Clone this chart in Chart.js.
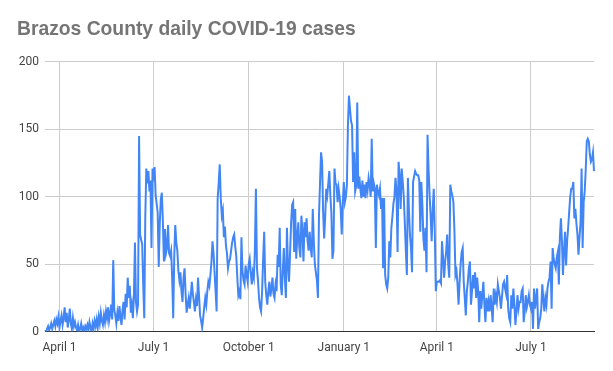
<!DOCTYPE html>
<html>
<head>
<meta charset="utf-8">
<script src="https://cdn.jsdelivr.net/npm/chart.js@4"></script>
<style>
  html, body { margin: 0; padding: 0; background: #fff; }
</style>
</head>
<body>
<canvas id="covidChart" width="613" height="371"></canvas>
<script>
// daily new cases, one per day starting March 18, 2020
var startDay = Date.UTC(2020, 2, 18);
var cases = [
  1, 0, 2, 4, 1, 3, 6, 2, 5, 8,
  4, 9, 6, 11, 3, 8, 12, 5, 10, 18,
  7, 14, 3, 9, 17, 6, 2, 10, 4, 7,
  3, 1, 5, 0, 2, 6, 1, 3, 0, 4,
  2, 5, 1, 7, 3, 0, 6, 2, 8, 4,
  9, 3, 11, 6, 14, 8, 5, 12, 7, 15,
  10, 18, 8, 13, 20, 9, 53, 16, 12, 6,
  14, 8, 19, 11, 5, 16, 22, 9, 28, 18,
  40, 25, 34, 14, 20, 10, 26, 66, 22, 15,
  20, 145, 72, 68, 65, 35, 10, 85, 121, 110,
  119, 104, 112, 62, 121, 116, 122, 101, 95, 88,
  48, 80, 98, 103, 82, 52, 76, 58, 62, 79,
  58, 56, 60, 40, 10, 55, 79, 66, 60, 45,
  38, 44, 30, 22, 40, 47, 28, 14, 20, 25,
  17, 26, 37, 28, 22, 15, 24, 19, 40, 26,
  12, 8, 3, 10, 18, 25, 20, 30, 37, 34,
  42, 52, 67, 58, 44, 30, 15, 99, 110, 124,
  99, 86, 90, 70, 78, 64, 58, 47, 52, 54,
  60, 66, 70, 72, 63, 56, 40, 27, 30, 24,
  70, 45, 38, 35, 49, 42, 37, 50, 54, 44,
  35, 44, 40, 60, 106, 47, 38, 25, 18, 15,
  30, 54, 74, 37, 27, 20, 30, 37, 26, 32,
  40, 28, 25, 35, 30, 57, 48, 77, 35, 27,
  45, 62, 40, 25, 77, 50, 37, 57, 80, 94,
  96, 59, 91, 54, 70, 81, 62, 55, 86, 74,
  52, 81, 70, 84, 67, 60, 74, 62, 55, 91,
  67, 50, 44, 38, 25, 86, 110, 133, 126, 89,
  69, 85, 106, 101, 110, 119, 101, 88, 54, 60,
  121, 110, 109, 96, 106, 100, 91, 72, 95, 111,
  96, 100, 109, 153, 175, 165, 156, 153, 111, 133,
  104, 108, 170, 106, 115, 106, 99, 112, 100, 109,
  99, 111, 105, 114, 109, 100, 143, 104, 110, 106,
  62, 109, 104, 101, 106, 91, 99, 47, 99, 42,
  35, 32, 40, 67, 55, 77, 85, 95, 100, 114,
  104, 59, 126, 115, 91, 121, 111, 100, 81, 60,
  42, 114, 90, 72, 62, 44, 111, 115, 119, 117,
  116, 116, 112, 74, 111, 94, 69, 60, 77, 44,
  146, 120, 101, 86, 67, 90, 106, 74, 30, 37,
  37, 37, 38, 36, 67, 55, 40, 52, 59, 72,
  50, 40, 109, 104, 101, 96, 75, 42, 45, 35,
  20, 37, 50, 59, 62, 37, 25, 12, 30, 37,
  47, 52, 20, 30, 42, 32, 44, 25, 40, 30,
  7, 30, 17, 27, 37, 20, 7, 25, 15, 22,
  15, 27, 18, 7, 32, 20, 27, 22, 35, 30,
  25, 17, 26, 35, 37, 32, 28, 42, 17, 10,
  7, 27, 17, 32, 20, 5, 15, 27, 17, 22,
  22, 30, 32, 7, 15, 27, 18, 22, 27, 20,
  17, 22, 2, 32, 17, 25, 32, 2, 7, 10,
  17, 35, 24, 15, 25, 20, 32, 37, 40, 52,
  17, 62, 54, 50, 47, 55, 59, 35, 70, 84,
  67, 42, 60, 74, 49, 67, 77, 89, 100, 106,
  106, 111, 84, 91, 80, 72, 57, 70, 81, 121,
  62, 96, 104, 120, 141, 143, 141, 131, 126, 128,
  133, 119
];
var tickDates = ['2020-04-01', '2020-07-01', '2020-10-01', '2021-01-01', '2021-04-01', '2021-07-01'];
var tickLabels = ['April 1', 'July 1', 'October 1', 'January 1', 'April 1', 'July 1'];
var yTicks = [0, 50, 100, 150, 200];

var days = cases.map(function(v, i) {
  return new Date(startDay + i * 86400000).toISOString().slice(0, 10);
});

var ctx = document.getElementById('covidChart').getContext('2d');
var chart = new Chart(ctx, {
  type: 'line',
  data: {
    labels: days,
    datasets: [{
      label: 'Cases',
      data: cases,
      borderColor: '#4285f4',
      backgroundColor: '#4285f4',
      borderWidth: 2,
      pointRadius: 0,
      tension: 0,
      fill: false
    }]
  },
  options: {
    responsive: false,
    animation: false,
    layout: { padding: { left: 17, right: 19, top: 14, bottom: 7 } },
    plugins: {
      legend: { display: false },
      tooltip: { enabled: false },
      title: {
        display: true,
        text: 'Brazos County daily COVID-19 cases',
        align: 'start',
        color: '#757575',
        font: { family: '"Liberation Sans", Arial, sans-serif', size: 19.3, weight: 'bold' },
        padding: { top: 4.4, bottom: 20.4 }
      }
    },
    scales: {
      x: {
        ticks: {
          autoSkip: false,
          maxRotation: 0,
          padding: 9,
          color: '#444',
          font: { family: 'Roboto, sans-serif', size: 12 },
          callback: function(value) {
            var k = tickDates.indexOf(this.getLabelForValue(value));
            return k >= 0 ? tickLabels[k] : null;
          }
        },
        grid: { color: '#cccccc', drawTicks: false },
        border: { display: true, color: '#333333', width: 1 }
      },
      y: {
        min: 0,
        max: 200,
        afterFit: function(scale) { scale.width = 28; },
        afterBuildTicks: function(scale) {
          scale.ticks = yTicks.map(function(v) { return { value: v }; });
        },
        ticks: {
          padding: 6,
          color: '#444',
          font: { family: 'Roboto, sans-serif', size: 12 }
        },
        grid: { color: '#cccccc', drawTicks: false },
        border: { display: false }
      }
    }
  }
});
</script>
</body>
</html>
